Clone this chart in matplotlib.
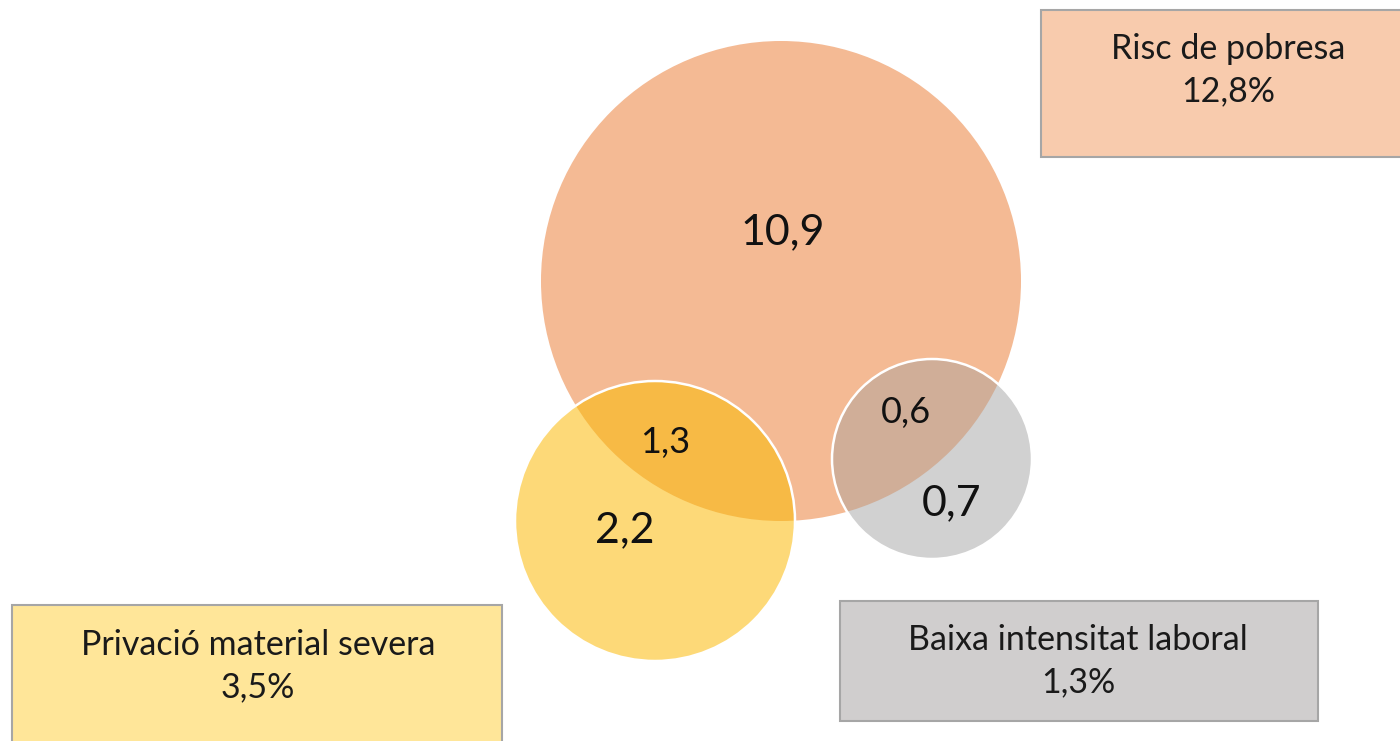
import matplotlib
matplotlib.use("Agg")
import matplotlib.pyplot as plt
from matplotlib.patches import Circle, Rectangle

plt.rcParams['font.family'] = ['Lato', 'DejaVu Sans']

# Data
group_names = ["Risc de pobresa", "Privació material severa", "Baixa intensitat laboral"]
group_totals = ["12,8%", "3,5%", "1,3%"]
region_labels = ["10,9", "1,3", "2,2", "0,6", "0,7"]

# Layout (pixel coordinates, y downwards)
circles = {
    "risc": dict(center=(781, 281), r=240, color="#F4BA94"),
    "priv": dict(center=(655, 521), r=140, color="#FDD978"),
    "baixa": dict(center=(932, 459), r=100, color="#D1D1D1"),
}
overlap_colors = {"priv": "#F7BA45", "baixa": "#D0AE98"}
region_pos = [(783, 232), (665, 443), (625, 530), (906, 412), (952, 503)]
region_size = [31, 26, 31, 26, 31]

boxes = [
    dict(xy=(1041, 10), w=400, h=147, fc="#F8CBAD", text=(1228, 70)),
    dict(xy=(12, 605), w=490, h=160, fc="#FFE699", text=(258, 666)),
    dict(xy=(840, 601), w=478, h=120, fc="#D0CECE", text=(1078, 661)),
]

fig = plt.figure(figsize=(14, 7.41), dpi=100)
ax = fig.add_axes([0, 0, 1, 1])
ax.set_xlim(0, 1400)
ax.set_ylim(741, 0)
ax.set_aspect("equal")
ax.axis("off")

# main circle
c = circles["risc"]
main = Circle(c["center"], c["r"], facecolor=c["color"], edgecolor="none", zorder=1)
ax.add_patch(main)

# smaller circles, their overlap with the main circle drawn as a clipped patch
for key in ["priv", "baixa"]:
    c = circles[key]
    ax.add_patch(Circle(c["center"], c["r"], facecolor=c["color"], edgecolor="none", zorder=2))
    ov = Circle(c["center"], c["r"], facecolor=overlap_colors[key], edgecolor="none", zorder=3)
    ax.add_patch(ov)
    ov.set_clip_path(main)
    ax.add_patch(Circle(c["center"], c["r"], facecolor="none", edgecolor="white",
                        linewidth=1.8, zorder=4))

for lab, pos, fs in zip(region_labels, region_pos, region_size):
    ax.text(pos[0], pos[1], lab, ha="center", va="center", fontsize=fs,
            color="#111111", zorder=5)

# legend boxes
for b, name, tot in zip(boxes, group_names, group_totals):
    ax.add_patch(Rectangle(b["xy"], b["w"], b["h"], facecolor=b["fc"],
                           edgecolor="#A6A6A6", linewidth=1.5, zorder=1))
    ax.text(b["text"][0], b["text"][1], name + "\n" + tot, ha="center", va="center",
            fontsize=24.5, linespacing=1.4, color="#1a1a1a", zorder=5)

fig.savefig("out.png", dpi=100)
